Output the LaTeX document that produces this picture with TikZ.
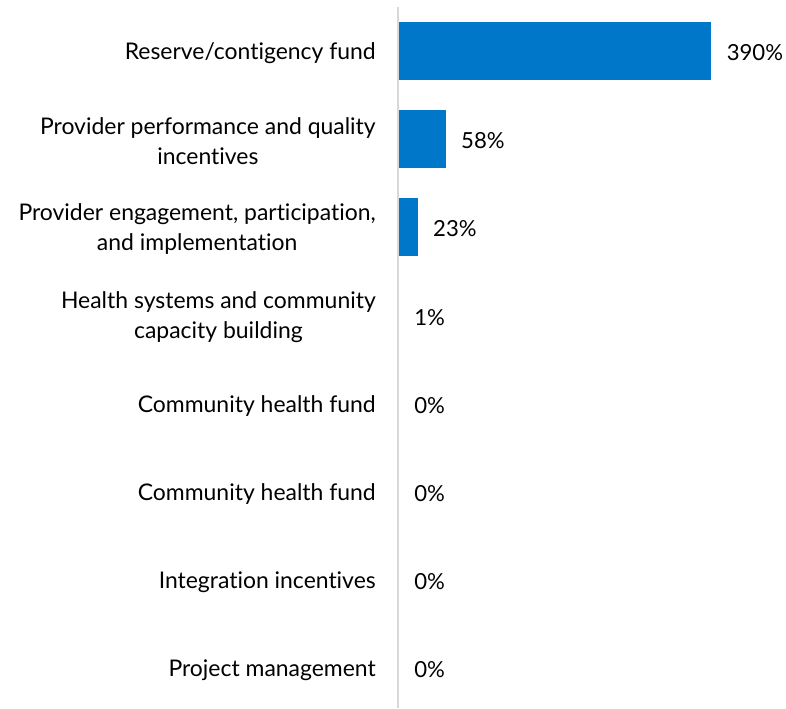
\documentclass[tikz,border=0pt]{standalone}
\usepackage{fontspec}
\setmainfont{Lato}[Ligatures=NoCommon]
\usetikzlibrary{positioning}
\definecolor{barblue}{RGB}{0,119,200}
\definecolor{axisgray}{RGB}{217,217,217}

\begin{document}
\begin{tikzpicture}[x=0.75pt,y=-0.75pt,
    bar/.style={rectangle,fill=barblue,draw=none,anchor=west,
      inner sep=0pt,minimum height=44pt},
    cat/.style={anchor=east,align=center,inner sep=0pt,
      font=\fontsize{17.2}{22}\selectfont},
    val/.style={anchor=west,inner sep=0pt,
      font=\fontsize{16.6}{21.6}\selectfont}]

  \useasboundingbox (0,0) rectangle (786,708);

  % axis
  \coordinate (top) at (398,7);
  \coordinate (bot) at (398,708);
  \draw[axisgray,line width=1.2pt] (top) -- (bot);

  % categories
  \node[cat] (RF) at (376,53) {Reserve/contigency fund};
  \node[cat] (PP) at (376,141) {Provider performance and quality\\incentives};
  \node[cat] (PE) at (376,229) {Provider engagement, participation,\\and implementation};
  \node[cat] (HS) at (376,317) {Health systems and community\\capacity building};
  \node[cat] (CH) at (376,406) {Community health fund};
  \node[cat] (CHB) at (376,494) {Community health fund};
  \node[cat] (II) at (376,582) {Integration incentives};
  \node[cat] (PM) at (376,670) {Project management};

  % bars
  \node[bar,minimum width=234pt] (RFbar) at (399,51) {};
  \node[bar,minimum width=34.8pt] (PPbar) at (399,139) {};
  \node[bar,minimum width=13.8pt] (PEbar) at (399,227) {};

  % values
  \node[val] (RFval) [right=11.25pt of RFbar,yshift=-1.5pt] {390\%};
  \node[val] (PPval) [right=11.25pt of PPbar,yshift=-1.5pt] {58\%};
  \node[val] (PEval) [right=11.25pt of PEbar,yshift=-1.5pt] {23\%};
  \node[val] (HSval) at (414,318) {1\%};
  \node[val] (CHval) at (414,406) {0\%};
  \node[val] (CHBval) at (414,494) {0\%};
  \node[val] (IIval) at (414,582) {0\%};
  \node[val] (PMval) at (414,670) {0\%};
\end{tikzpicture}
\end{document}
